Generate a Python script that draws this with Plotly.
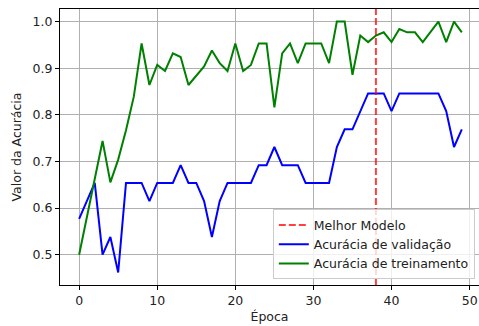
import plotly.graph_objects as go

epochs = list(range(50))
val_acc = [0.577, 0.615, 0.654, 0.500, 0.538, 0.462, 0.654, 0.654, 0.654, 0.615,
           0.654, 0.654, 0.654, 0.692, 0.654, 0.654, 0.615, 0.538, 0.615, 0.654,
           0.654, 0.654, 0.654, 0.692, 0.692, 0.731, 0.692, 0.692, 0.692, 0.654,
           0.654, 0.654, 0.654, 0.731, 0.769, 0.769, 0.808, 0.846, 0.846, 0.846,
           0.808, 0.846, 0.846, 0.846, 0.846, 0.846, 0.846, 0.808, 0.731, 0.769]
train_acc = [0.500, 0.581, 0.663, 0.744, 0.655, 0.704, 0.767, 0.839, 0.953, 0.864,
             0.907, 0.894, 0.932, 0.924, 0.864, 0.884, 0.904, 0.938, 0.911, 0.894,
             0.953, 0.894, 0.907, 0.953, 0.953, 0.816, 0.932, 0.953, 0.911, 0.953,
             0.953, 0.953, 0.911, 1.000, 1.000, 0.886, 0.970, 0.956, 0.970, 0.977,
             0.956, 0.984, 0.977, 0.977, 0.956, 0.977, 1.000, 0.956, 1.000, 0.977]
best_epoch = 38
x_ticks = [0, 10, 20, 30, 40, 50]
y_ticks = [0.5, 0.6, 0.7, 0.8, 0.9, 1.0]

FONT = "DejaVu Sans"
fs = 12.5
RED = "rgba(255,0,0,0.75)"

fig = go.Figure()
fig.add_trace(go.Scatter(x=[None], y=[None], mode="lines", name="Melhor Modelo",
                         line=dict(color=RED, width=2, dash="7px,3px")))
fig.add_trace(go.Scatter(x=epochs, y=val_acc, mode="lines", name="Acurácia de validação",
                         line=dict(color="#0000ff", width=2)))
fig.add_trace(go.Scatter(x=epochs, y=train_acc, mode="lines", name="Acurácia de treinamento",
                         line=dict(color="#008000", width=2)))
fig.add_shape(type="line", x0=best_epoch, x1=best_epoch, y0=0, y1=1, xref="x", yref="paper",
              line=dict(color=RED, width=2, dash="7px,3px"))

axis_common = dict(showgrid=True, gridcolor="#b0b0b0", gridwidth=1,
                   showline=True, linecolor="#000000", linewidth=1, mirror=True,
                   ticks="outside", ticklen=4, tickcolor="#000000", zeroline=False,
                   tickfont=dict(family=FONT, size=fs, color="#222222"))
fig.update_xaxes(range=[-2.45, 51.2], tickvals=x_ticks, ticktext=[str(v) for v in x_ticks],
                 title=dict(text="Época", font=dict(family=FONT, size=fs, color="#222222"), standoff=5),
                 **axis_common)
fig.update_yaxes(range=[0.435, 1.027], tickvals=y_ticks, ticktext=[f"{v:.1f}" for v in y_ticks],
                 title=dict(text="Valor da Acurácia", font=dict(family=FONT, size=fs, color="#222222"), standoff=8),
                 **axis_common)

fig.update_layout(
    width=479, height=326,
    margin=dict(l=60, r=0, t=9, b=41),
    paper_bgcolor="white", plot_bgcolor="white",
    font=dict(family=FONT, size=fs, color="#222222"),
    showlegend=True,
    legend=dict(x=0.99, y=0.02, xanchor="right", yanchor="bottom",
                bgcolor="rgba(255,255,255,0.8)", bordercolor="#cccccc", borderwidth=1,
                font=dict(family=FONT, size=fs, color="#222222"),
                tracegroupgap=0, itemwidth=30),
)

fig.write_html("out.html", config={"displayModeBar": False},
               post_script="document.body.style.margin='0';document.body.style.padding='0';document.documentElement.style.overflow='hidden';")
